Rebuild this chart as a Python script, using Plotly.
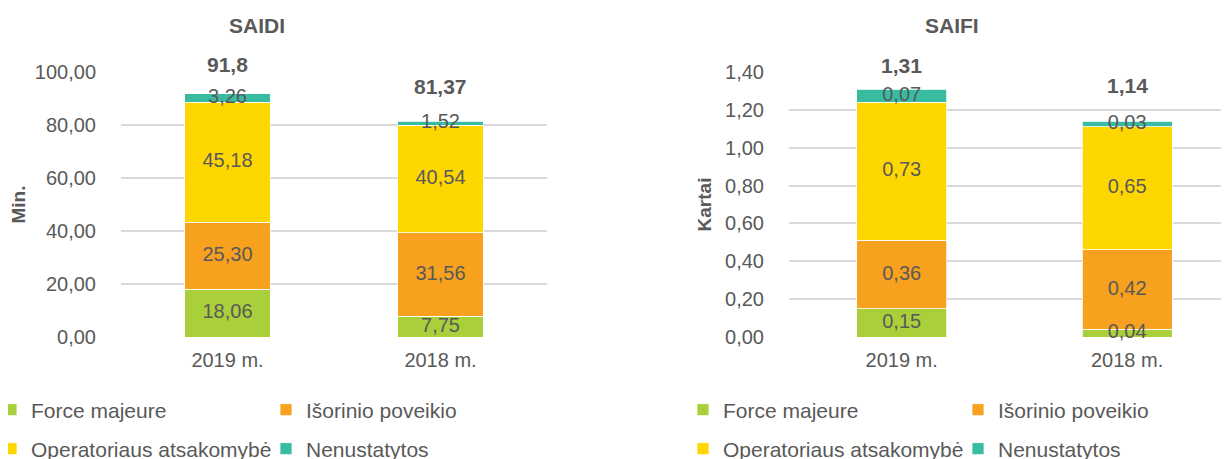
import numpy as np
import plotly.graph_objects as go

categories = ["2019 m.", "2018 m."]
series_names = ["Force majeure", "Išorinio poveikio", "Operatoriaus atsakomybė", "Nenustatytos"]

saidi_force = [18.06, 7.75]
saidi_isor = [25.30, 31.56]
saidi_oper = [45.18, 40.54]
saidi_nenu = [3.26, 1.52]
saidi_total = [91.8, 81.37]
saidi_total_labels = ["91,8", "81,37"]

saifi_force = [0.15, 0.04]
saifi_isor = [0.36, 0.42]
saifi_oper = [0.73, 0.65]
saifi_nenu = [0.07, 0.03]
saifi_total = [1.31, 1.14]
saifi_total_labels = ["1,31", "1,14"]

colors = ["#A9D03A", "#F7A11E", "#FFD700", "#37BBA1"]
TXT = "#595959"
GRID = "#D9D9D9"
FONT = "Liberation Sans, Arial, sans-serif"
PAGE_W, PAGE_H = 1229, 459
OFF = 8  # default page body margin
W, H = PAGE_W - OFF, PAGE_H - OFF

def fx(px):
    return (px - OFF) / W

def fy(py):
    return (H - (py - OFF)) / H

fig = go.Figure()

def add_chart(series, totals, total_labels, xa, ya, legs, shifts):
    cum = np.zeros(len(categories))
    for i, (name, vals) in enumerate(zip(series_names, series)):
        vals = np.array(vals, dtype=float)
        fig.add_trace(go.Bar(
            x=categories, y=vals, name=name, xaxis=xa, yaxis=ya,
            marker=dict(color=colors[i], line=dict(color="white", width=0.8)),
            legend=legs[0] if i in (0, 1) else legs[1],
            hoverinfo="skip",
        ))
        mids = cum + vals / 2
        fig.add_trace(go.Scatter(
            x=categories, y=mids, mode="text", xaxis=xa, yaxis=ya,
            text=[f"{v:.2f}".replace(".", ",") for v in vals],
            textposition="middle center",
            textfont=dict(family=FONT, size=20, color=TXT),
            showlegend=False, cliponaxis=False, hoverinfo="skip",
        ))
        cum = cum + vals
    for c, t, lab, s in zip(categories, totals, total_labels, shifts):
        fig.add_annotation(
            x=c, y=t, xref=xa, yref=ya, text=f"<b>{lab}</b>", showarrow=False,
            yanchor="middle", yshift=s,
            font=dict(family=FONT, size=21, color=TXT),
        )

add_chart([saidi_force, saidi_isor, saidi_oper, saidi_nenu], saidi_total,
          saidi_total_labels, "x", "y", ("legend", "legend2"), [29, 35])
add_chart([saifi_force, saifi_isor, saifi_oper, saifi_nenu], saifi_total,
          saifi_total_labels, "x2", "y2", ("legend3", "legend4"), [24, 36])

for text, cx in (("SAIDI", 257), ("SAIFI", 952)):
    fig.add_annotation(text=f"<b>{text}</b>", x=fx(cx), y=fy(25), xref="paper", yref="paper",
                       showarrow=False, xanchor="center", yanchor="middle",
                       font=dict(family=FONT, size=21, color=TXT))

ydom = [fy(337), fy(72)]

axis_common = dict(
    showline=False, zeroline=False, automargin=False,
    tickfont=dict(family=FONT, size=20, color=TXT),
)

leg_common = dict(
    orientation="h", entrywidth=230, entrywidthmode="pixels", traceorder="normal",
    font=dict(family=FONT, size=21, color=TXT), bgcolor="rgba(0,0,0,0)",
    xanchor="left", yanchor="middle", itemclick=False, itemdoubleclick=False,
)

fig.update_layout(
    width=W, height=H,
    margin=dict(l=0, r=0, t=0, b=0, autoexpand=False),
    paper_bgcolor="white", plot_bgcolor="white",
    barmode="stack", bargap=0.6,
    separators=", ",
    showlegend=True,
    xaxis=dict(domain=[fx(121), fx(547)], anchor="y", showgrid=False, range=[-0.5, 1.5],
               ticks="outside", ticklen=5, tickcolor="rgba(0,0,0,0)", **axis_common),
    yaxis=dict(domain=ydom, anchor="x", range=[0, 100], dtick=20, tickformat=".2f",
               showgrid=True, gridcolor=GRID, gridwidth=1.5,
               ticks="outside", ticklen=20, tickcolor="rgba(0,0,0,0)",
               title=dict(text="<b>Min.</b>", font=dict(family=FONT, size=19, color=TXT), standoff=11),
               **axis_common),
    xaxis2=dict(domain=[fx(789), 1.0], anchor="y2", showgrid=False, range=[-0.5, 1.452],
                ticks="outside", ticklen=5, tickcolor="rgba(0,0,0,0)", **axis_common),
    yaxis2=dict(domain=ydom, anchor="x2", range=[0, 1.4], dtick=0.2, tickformat=".2f",
                showgrid=True, gridcolor=GRID, gridwidth=1.5,
                ticks="outside", ticklen=20, tickcolor="rgba(0,0,0,0)",
                title=dict(text="<b>Kartai</b>", font=dict(family=FONT, size=19, color=TXT), standoff=8),
                **axis_common),
    legend=dict(x=fx(-9), y=fy(410), **leg_common),
    legend2=dict(x=fx(-9), y=fy(449), **leg_common),
    legend3=dict(x=fx(683), y=fy(410), **leg_common),
    legend4=dict(x=fx(683), y=fy(449), **leg_common),
)

fig.write_html("out.html")
